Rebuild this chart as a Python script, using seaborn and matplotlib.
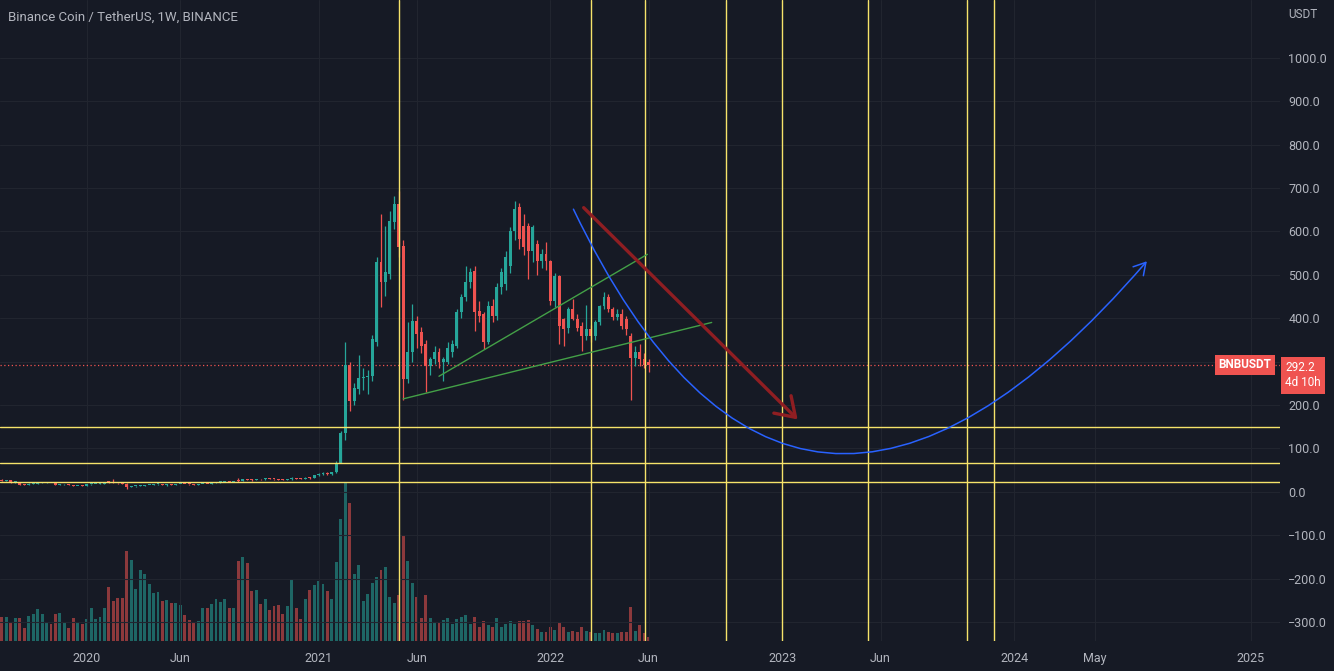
import numpy as np
import pandas as pd
import matplotlib
matplotlib.use("Agg")
import matplotlib.pyplot as plt
import matplotlib.dates as mdates
from matplotlib.path import Path
from matplotlib.patches import FancyArrowPatch
import seaborn as sns

# Weekly BNB/USDT candles, first bar = week of 2019-08-19
FIRST_WEEK = "2019-08-19"

opens = [
    29.0, 27.6, 25.6, 26.8, 21.8, 22.5, 16.2, 15.8, 18.3, 18.9,
    20.6, 20.8, 21.0, 19.6, 16.4, 16.7, 16.9, 15.0, 13.7, 13.9,
    13.6, 17.1, 17.7, 17.9, 18.6, 22.0, 21.7, 20.4, 19.4, 18.9,
    11.4, 12.6, 12.9, 14.1, 15.3, 15.6, 16.8, 17.4, 16.2, 16.5,
    16.2, 17.5, 17.8, 17.1, 16.8, 16.4, 17.3, 18.3, 18.0, 19.6,
    21.6, 22.1, 22.9, 22.2, 26.5, 25.0, 28.6, 27.4, 26.8, 28.8,
    28.2, 30.6, 29.8, 28.4, 27.9, 27.6, 29.4, 31.2, 30.4, 29.8,
    32.6, 31.2, 37.6, 41.6, 43.2, 40.8, 44.5, 67.0, 136.0, 293.0,
    208.0, 236.0, 262.0, 264.0, 266.0, 346.0, 529.0, 483.0, 501.0, 621.0,
    663.0, 566.0, 259.0, 323.0, 393.0, 367.0, 340.0, 289.0, 305.0, 321.0,
    300.0, 300.0, 321.0, 335.0, 413.0, 448.0, 483.0, 508.0, 416.0, 409.0,
    344.0, 427.0, 404.0, 471.0, 478.0, 520.0, 600.0, 656.0, 612.0, 612.0,
    554.0, 570.0, 531.0, 547.0, 531.0, 439.0, 497.0, 397.0, 378.0, 420.0,
    397.0, 381.0, 358.0, 374.0, 358.0, 390.0, 427.0, 448.0, 420.0, 402.0,
    409.0, 397.0, 358.0, 309.0, 321.0, 305.0, 300.0,
]
highs = [
    30.5, 28.5, 27.5, 27.2, 23.4, 22.8, 17.9, 19.2, 19.4, 22.0,
    21.6, 21.8, 21.2, 19.8, 17.1, 17.3, 17.0, 15.6, 14.3, 14.4,
    17.4, 18.2, 18.0, 19.1, 22.4, 25.6, 29.0, 21.2, 21.4, 19.2,
    13.2, 13.6, 14.4, 15.9, 16.0, 17.0, 18.5, 18.0, 16.8, 17.2,
    17.8, 18.4, 18.1, 17.4, 17.2, 17.6, 18.6, 18.5, 20.0, 22.4,
    22.6, 23.4, 24.0, 23.3, 31.0, 29.5, 30.0, 28.5, 29.6, 29.4,
    31.5, 31.2, 30.4, 29.0, 28.8, 29.8, 33.5, 32.0, 31.0, 33.6,
    34.0, 39.0, 44.0, 45.5, 45.0, 46.0, 70.0, 140.0, 346.0, 300.0,
    250.0, 316.0, 285.0, 280.0, 360.0, 540.0, 640.0, 612.0, 647.0, 681.0,
    693.0, 580.0, 390.0, 432.0, 405.0, 380.0, 350.0, 310.0, 335.0, 330.0,
    310.0, 345.0, 350.0, 420.0, 455.0, 520.0, 515.0, 520.0, 440.0, 415.0,
    440.0, 445.0, 480.0, 515.0, 555.0, 610.0, 670.0, 665.0, 640.0, 620.0,
    615.0, 580.0, 560.0, 575.0, 535.0, 505.0, 500.0, 400.0, 425.0, 443.0,
    410.0, 390.0, 430.0, 385.0, 395.0, 430.0, 460.0, 455.0, 425.0, 420.0,
    420.0, 405.0, 365.0, 335.0, 340.0, 320.0, 305.0,
]
lows = [
    26.8, 24.9, 24.5, 21.0, 20.2, 15.1, 15.3, 15.5, 17.6, 18.4,
    19.6, 19.8, 19.2, 15.8, 15.2, 15.9, 14.8, 12.9, 13.2, 13.0,
    13.4, 16.5, 16.8, 17.2, 18.2, 21.0, 19.6, 18.8, 18.4, 6.4,
    10.9, 11.9, 12.5, 13.7, 14.6, 15.1, 16.3, 15.6, 14.3, 15.8,
    15.9, 17.0, 16.8, 15.9, 16.1, 16.0, 17.0, 17.5, 17.8, 19.3,
    20.5, 21.6, 21.7, 21.4, 22.5, 24.0, 26.5, 25.0, 26.2, 27.2,
    27.8, 28.9, 27.5, 26.8, 26.9, 27.2, 28.0, 29.5, 28.6, 29.4,
    29.8, 30.8, 36.5, 38.0, 38.5, 38.8, 43.0, 66.0, 118.0, 185.0,
    200.0, 225.0, 235.0, 224.0, 255.0, 335.0, 425.0, 450.0, 490.0, 605.0,
    540.0, 212.0, 250.0, 300.0, 330.0, 320.0, 229.0, 270.0, 295.0, 285.0,
    254.0, 295.0, 310.0, 330.0, 400.0, 440.0, 470.0, 370.0, 390.0, 328.0,
    340.0, 390.0, 395.0, 455.0, 465.0, 505.0, 580.0, 560.0, 545.0, 490.0,
    530.0, 500.0, 515.0, 510.0, 430.0, 425.0, 340.0, 335.0, 365.0, 395.0,
    370.0, 325.0, 350.0, 345.0, 350.0, 385.0, 420.0, 415.0, 395.0, 395.0,
    375.0, 360.0, 212.0, 290.0, 290.0, 285.0, 275.0,
]
closes = [
    27.6, 25.6, 26.8, 21.8, 22.5, 16.2, 15.8, 18.3, 18.9, 20.6,
    20.8, 21.0, 19.6, 16.4, 16.7, 16.9, 15.0, 13.7, 13.9, 13.6,
    17.1, 17.7, 17.9, 18.6, 22.0, 21.7, 20.4, 19.4, 18.9, 11.4,
    12.6, 12.9, 14.1, 15.3, 15.6, 16.8, 17.4, 16.2, 16.5, 16.2,
    17.5, 17.8, 17.1, 16.8, 16.4, 17.3, 18.3, 18.0, 19.6, 21.6,
    22.1, 22.9, 22.2, 23.0, 25.0, 28.6, 27.4, 26.8, 28.8, 28.2,
    30.6, 29.8, 28.4, 27.9, 27.6, 29.4, 31.2, 30.4, 29.8, 32.6,
    31.2, 37.6, 41.6, 43.2, 40.8, 44.5, 67.0, 136.0, 293.0, 208.0,
    240.0, 263.0, 265.0, 266.0, 351.0, 529.0, 483.0, 506.0, 624.0, 663.0,
    563.0, 259.0, 323.0, 393.0, 363.0, 335.0, 289.0, 305.0, 321.0, 300.0,
    305.0, 332.0, 340.0, 413.0, 448.0, 483.0, 506.0, 413.0, 404.0, 344.0,
    427.0, 404.0, 471.0, 506.0, 540.0, 600.0, 651.0, 582.0, 563.0, 554.0,
    610.0, 531.0, 547.0, 531.0, 439.0, 497.0, 381.0, 374.0, 420.0, 397.0,
    378.0, 358.0, 374.0, 358.0, 390.0, 427.0, 448.0, 420.0, 402.0, 410.0,
    381.0, 374.0, 309.0, 321.0, 305.0, 293.0, 292.2,
]
# volume, relative units
volumes = [
    20, 24, 24, 18, 23, 23, 13, 25, 27, 32, 27, 18, 17, 27, 28, 18, 13, 23,
    18, 17, 22, 33, 22, 24, 33, 54, 40, 43, 43, 91, 82, 52, 72, 67, 57, 48,
    49, 40, 41, 38, 38, 36, 26, 21, 19, 20, 33, 33, 37, 42, 39, 42,
    33, 33, 81, 85, 79, 50, 51, 37, 42, 31, 35, 36, 27, 35, 62, 33, 22, 42,
    51, 56, 60, 57, 50, 42, 80, 123, 159, 139, 67, 77, 40, 47, 58, 64,
    71, 75, 44, 38, 46, 106, 81, 58, 44, 23, 46, 23, 19, 18, 21, 23, 17, 22,
    24, 26, 17, 24, 14, 20, 16, 14, 23, 14, 17, 20, 17, 20, 20, 21, 16, 12,
    9, 9, 14, 11, 18, 14, 9, 10, 9, 14, 10, 9, 8, 8, 11, 9, 8, 8, 9, 9, 34,
    10, 16, 8, 4,
]

# drawings on the chart
level_prices = [148, 67, 23]
vline_dates = ["2021-05-10", "2022-03-07", "2022-05-31", "2022-10-05",
               "2023-01-02", "2023-05-16", "2023-10-18", "2023-11-30"]
trend_dates = ["2021-05-17", "2022-09-13", "2021-07-12", "2022-06-04"]
trend_prices = [214, 390, 266, 547]
trend_ids = ["lower", "lower", "upper", "upper"]
arrow_dates = ["2022-02-21", "2023-01-29"]
arrow_prices = [659, 162]
curve_dates = ["2022-02-08", "2023-01-20", "2024-07-27"]
curve_prices = [651, -411, 531]

tick_dates = ["2020-01-06", "2020-06-01", "2021-01-04", "2021-06-07", "2022-01-03",
              "2022-06-06", "2023-01-02", "2023-06-05", "2024-01-01", "2024-05-06",
              "2025-01-06"]
tick_labels = ["2020", "Jun", "2021", "Jun", "2022", "Jun", "2023", "Jun", "2024",
               "May", "2025"]
price_ticks = list(range(-300, 1001, 100))

BG = "#161a25"
GRID = "#21252f"
TXT = "#b2b5be"
UP = "#26a69a"
DOWN = "#ef5350"
YELLOW = "#f6e36a"

sns.set_theme(style="darkgrid", rc={
    "axes.facecolor": BG, "figure.facecolor": BG, "grid.color": GRID,
    "grid.linewidth": 0.8, "axes.edgecolor": BG,
})
plt.rcParams["font.family"] = ["Roboto", "DejaVu Sans"]

dates = pd.date_range(FIRST_WEEK, periods=len(closes), freq="7D")
x = mdates.date2num(dates)
o = np.array(opens)
h = np.array(highs)
l = np.array(lows)
c = np.array(closes)
colors = np.where(c >= o, UP, DOWN)

fig = plt.figure(figsize=(13.34, 6.71), dpi=100)
ax = fig.add_axes([0, 30 / 671, 1280 / 1334, 641 / 671])
ax_v = ax.twinx()
ax.set_zorder(ax_v.get_zorder() + 1)
ax.patch.set_visible(False)

# volume
ax_v.bar(x, volumes, width=4.6, color=colors, alpha=0.55, linewidth=0)
ax_v.set_ylim(0, max(volumes) * 4.06)
ax_v.set_yticks([])
ax_v.grid(False)

# candles
ax.vlines(x, l, h, colors=colors, linewidth=0.9, zorder=3)
ax.bar(x, np.maximum(np.abs(c - o), 2.2), bottom=np.minimum(o, c), width=4.6,
       color=colors, linewidth=0, zorder=3)

# yellow levels and time lines
for p in level_prices:
    ax.axhline(p, color=YELLOW, lw=1.0, zorder=4)
for d in vline_dates:
    ax.axvline(mdates.date2num(pd.Timestamp(d)), color=YELLOW, lw=1.0, zorder=4)

# green trend lines
trend = pd.DataFrame({"x": mdates.date2num(pd.to_datetime(trend_dates)),
                      "price": trend_prices, "line": trend_ids})
sns.lineplot(data=trend, x="x", y="price", units="line", estimator=None,
             color="#43a047", lw=1.0, ax=ax, legend=False, zorder=5)

# red arrow
ax_dates = mdates.date2num(pd.to_datetime(arrow_dates))
ax.annotate("", xy=(ax_dates[1], arrow_prices[1]), xytext=(ax_dates[0], arrow_prices[0]),
            arrowprops=dict(arrowstyle="->,head_length=0.6,head_width=0.4",
                            color="#8f1e22", lw=2.4, mutation_scale=22), zorder=5)

# blue curve
cx = mdates.date2num(pd.to_datetime(curve_dates))
curve = Path(list(zip(cx, curve_prices)), [Path.MOVETO, Path.CURVE3, Path.CURVE3])
ax.add_patch(FancyArrowPatch(path=curve, arrowstyle="->,head_length=0.6,head_width=0.35",
                             mutation_scale=14, color="#2962ff", lw=1.1,
                             transform=ax.transData, zorder=5))

# last price line
last = closes[-1]
ax.axhline(last, color=DOWN, lw=0.9, ls=(0, (1, 2)), zorder=2)

ax.set_xlim(mdates.date2num(pd.Timestamp("2019-08-23")),
            mdates.date2num(pd.Timestamp("2025-02-21")))
ax.set_ylim(-344, 1133)
ax.set_xticks(mdates.date2num(pd.to_datetime(tick_dates)))
ax.set_xticklabels(tick_labels)
ax.set_yticks(price_ticks)
# the 300 label sits under the last-price box
ax.set_yticklabels(["" if v == 300 else f"{v:.1f}".replace("-", "\u2212")
                    for v in price_ticks])
ax.yaxis.tick_right()
ax.tick_params(axis="x", length=0, pad=8, labelsize=9, colors=TXT)
ax.tick_params(axis="y", length=0, pad=6, labelsize=9, colors=TXT)
ax.set_xlabel("")
ax.set_ylabel("")
for s in list(ax.spines.values()) + list(ax_v.spines.values()):
    s.set_visible(False)

ax.text(8 / 1280, 1 - 17 / 641, "Binance Coin / TetherUS, 1W, BINANCE",
        transform=ax.transAxes, va="center", ha="left", fontsize=9.5, color=TXT)
ax.text(1 + 8 / 1280, 1 - 14 / 641, "USDT", transform=ax.transAxes,
        va="center", ha="left", fontsize=8.5, color=TXT)

ax.annotate("BNBUSDT", xy=(1, last), xycoords=ax.get_yaxis_transform(),
            xytext=(-9, 0), textcoords="offset pixels", ha="right", va="center",
            fontsize=8.5, color="white", fontweight="bold", zorder=20,
            bbox=dict(boxstyle="square,pad=0.3", fc=DOWN, ec="none"))
ax.annotate("292.2\n4d 10h", xy=(1, last), xycoords=ax.get_yaxis_transform(),
            xytext=(5, 4), textcoords="offset pixels", ha="left", va="top",
            fontsize=8.5, color="white", linespacing=1.25, zorder=20,
            annotation_clip=False,
            bbox=dict(boxstyle="square,pad=0.35", fc=DOWN, ec="none"))

fig.savefig("out.png", dpi=100, facecolor=BG)
